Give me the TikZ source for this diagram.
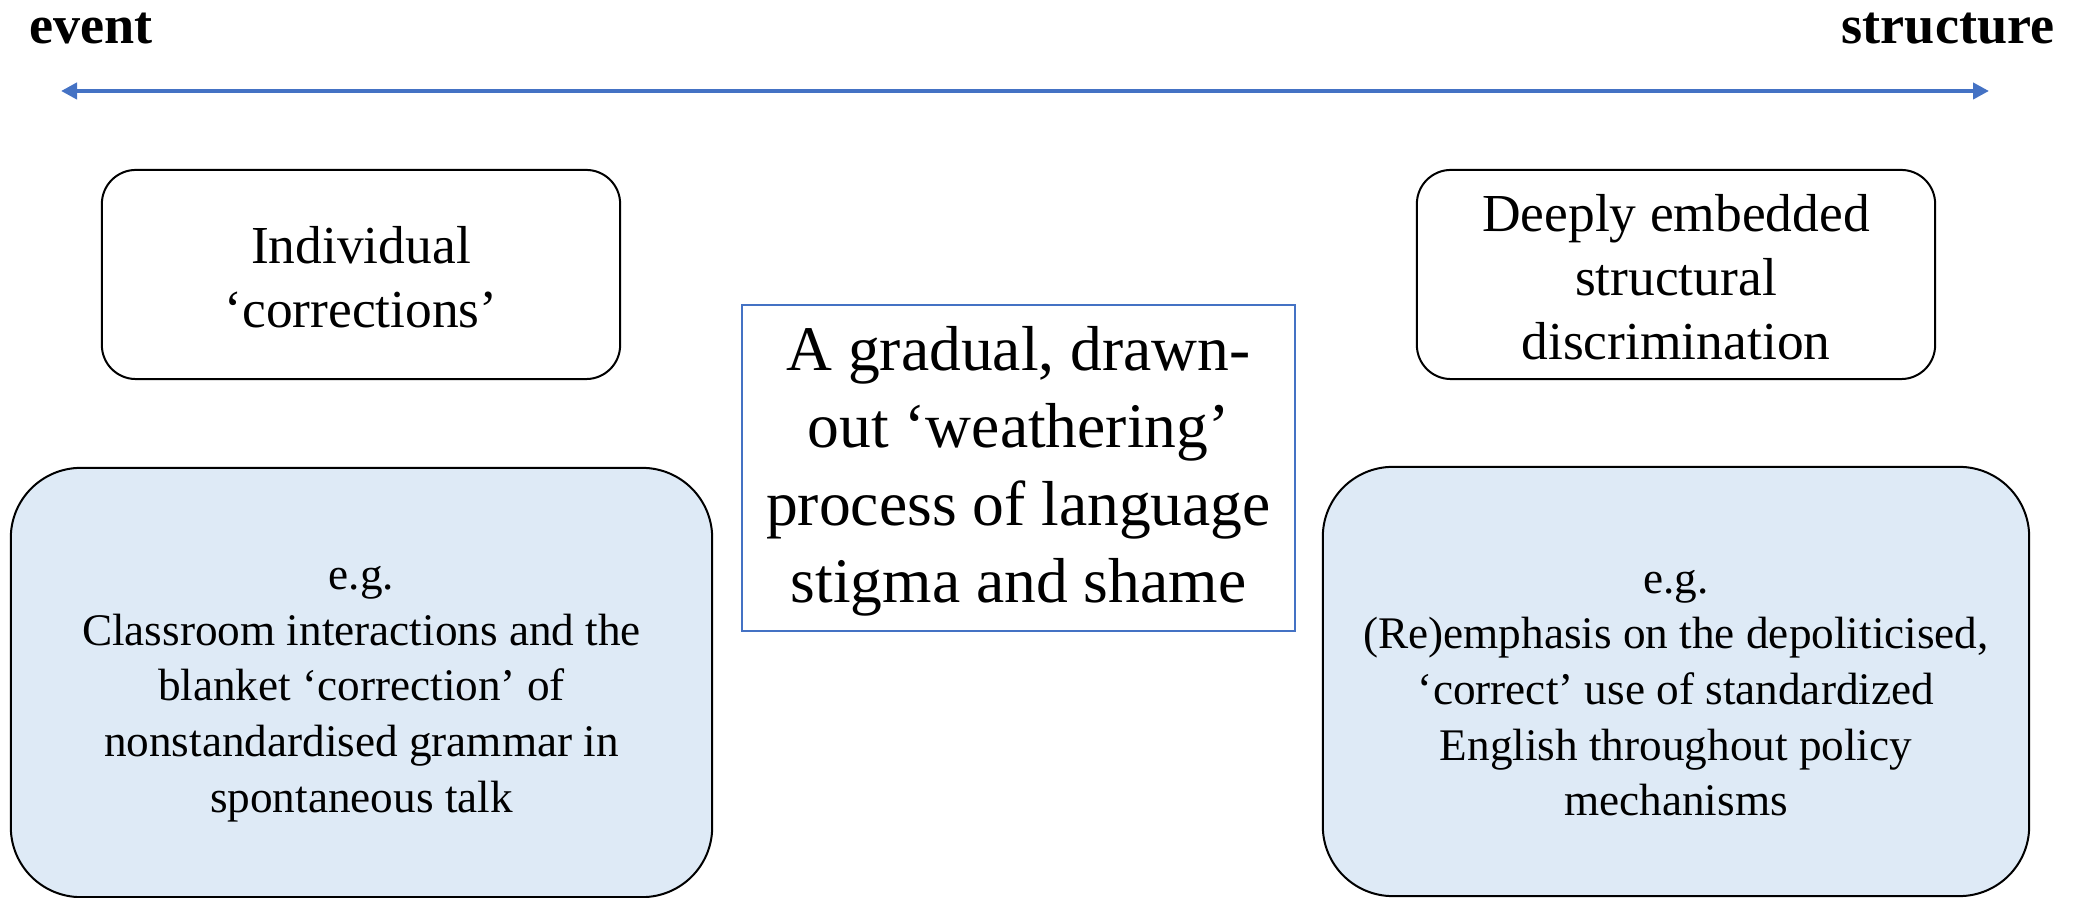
\documentclass[tikz,border=0pt]{standalone}
\usepackage{fontspec}
\setmainfont{Liberation Serif}
\usetikzlibrary{arrows.meta}
\definecolor{axisblue}{RGB}{68,114,196}
\definecolor{boxfill}{RGB}{222,234,246}
\tikzset{
  toplabel/.style={inner sep=0pt, font=\bfseries\fontsize{15.4}{18}\selectfont},
  smallbox/.style={draw=black, line width=0.02cm, rounded corners=0.34cm, minimum width=5.18cm, minimum height=2.09cm, inner sep=0pt},
  smalltext/.style={align=center, inner sep=0pt, yshift=-0.026cm, font=\fontsize{15.2}{18.2}\selectfont},
  bigbox/.style={draw=black, line width=0.02cm, fill=boxfill, rounded corners=0.7cm, minimum height=4.29cm, inner sep=0pt},
  bigtext/.style={align=center, inner sep=0pt, yshift=-0.116cm, font=\fontsize{12.86}{15.8}\selectfont},
  centrebox/.style={draw=axisblue, line width=0.018cm, minimum width=5.53cm, minimum height=3.26cm, inner sep=0pt},
  centretext/.style={align=center, inner sep=0pt, yshift=-0.033cm, font=\fontsize{18.07}{22.05}\selectfont},
  axis/.style={draw=axisblue, line width=0.045cm, {Triangle[length=0.16cm,width=0.16cm]}-{Triangle[length=0.16cm,width=0.16cm]}}
}
\begin{document}
\begin{tikzpicture}[x=0.01cm, y=-0.01cm]
\useasboundingbox (0,0) rectangle (2078,898);
\node[toplabel, anchor=base west] (event) at (29,44) {event};
\node[toplabel, anchor=base east] (structure) at (2055,44) {structure};
\coordinate (aleft) at (61,91);
\coordinate (aright) at (1989,91);
\draw[axis] (aleft) -- (aright);
\node[smallbox] (indiv) at (361,274.5) {};
\node[smalltext] (indivtext) at (indiv.center) {Individual\\‘corrections’};
\node[smallbox] (deep) at (1676,274.5) {};
\node[smalltext] (deeptext) at (deep.center) {Deeply embedded\\structural\\discrimination};
\node[bigbox, minimum width=7.01cm] (leftex) at (361.5,682.5) {};
\node[bigtext] (leftextext) at (leftex.center) {e.g.\\Classroom interactions and the\\blanket ‘correction’ of\\nonstandardised grammar in\\spontaneous talk};
\node[bigbox, minimum width=7.06cm] (rightex) at (1676,681.5) {};
\node[bigtext] (rightextext) at (rightex.center) {e.g.\\(Re)emphasis on the depoliticised,\\‘correct’ use of standardized\\English throughout policy\\mechanisms};
\node[centrebox] (centre) at (1018.5,468) {};
\node[centretext] (centretxt) at (centre.center) {A gradual, drawn-\\out ‘weathering’\\process of language\\stigma and shame};
\end{tikzpicture}
\end{document}
